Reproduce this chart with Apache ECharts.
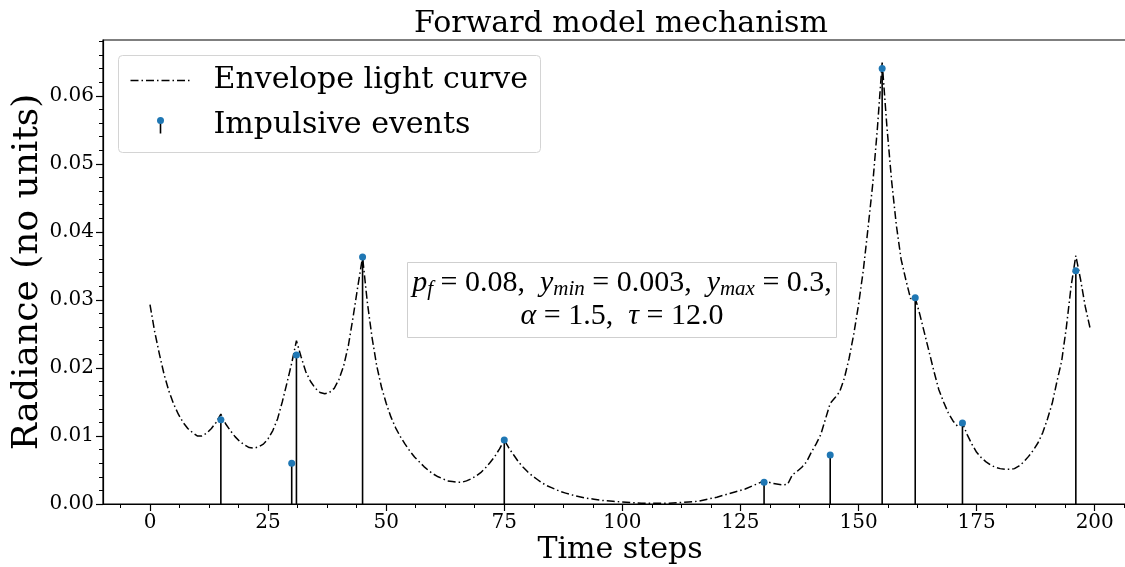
<!DOCTYPE html>
<html>
<head>
<meta charset="utf-8">
<script src="https://cdn.jsdelivr.net/npm/echarts@6/dist/echarts.min.js"></script>
<style>html,body{margin:0;padding:0;background:#fff}#c{width:1125px;height:567px}</style>
</head>
<body>
<div id="c"></div>
<script>
// ---- data ----
const curveT = [0,1,2,3,4,5,6,7,8,9,10,11,12,13,14,15,16,17,18,19,20,21,22,23,24,25,26,27,28,29,30,31,32,33,34,35,36,37,38,39,40,41,42,43,44,45,46,47,48,49,50,51,52,53,54,55,56,57,58,59,60,61,62,63,64,65,66,67,68,69,70,71,72,73,74,75,76,77,78,79,80,81,82,83,84,85,86,87,88,90,92,94,96,98,100,102,104,106,108,110,112,114,116,118,120,122,124,126,128,130,131,132,133,134,135,136,137,138,139,140,141,142,143,144,145,146,147,148,149,150,151,152,153,154,155,156,157,158,159,160,161,162,163,164,165,166,167,168,169,170,171,172,173,174,175,176,177,178,179,180,181,182,183,184,185,186,187,188,189,190,191,192,193,194,195,196,197,198,199];
const curveV = [0.0293,0.0253,0.0220,0.0190,0.0166,0.0147,0.0132,0.0120,0.0111,0.0105,0.0100,0.0100,0.0104,0.0111,0.0120,0.0132,0.0118,0.0108,0.0099,0.0092,0.0087,0.0083,0.0082,0.0084,0.0088,0.0096,0.0108,0.0125,0.0150,0.0178,0.0207,0.0240,0.0216,0.0194,0.0180,0.0170,0.0164,0.0162,0.0164,0.0170,0.0183,0.0203,0.0233,0.0275,0.0320,0.0363,0.0297,0.0245,0.0203,0.0172,0.0148,0.0128,0.0112,0.0099,0.0088,0.0078,0.0069,0.0062,0.0055,0.0049,0.0044,0.0040,0.0037,0.0034,0.0033,0.0032,0.0032,0.0034,0.0037,0.0041,0.0046,0.0053,0.0061,0.0070,0.0081,0.0094,0.0082,0.0072,0.0062,0.0054,0.0047,0.0041,0.0036,0.0031,0.0027,0.0024,0.0021,0.0018,0.0016,0.0012,0.0009,0.0007,0.0005,0.0004,0.0003,0.0002,0.0001,0.0001,0.0001,0.0001,0.0002,0.0003,0.0004,0.0007,0.0010,0.0014,0.0018,0.0022,0.0028,0.0034,0.0032,0.0030,0.0029,0.0028,0.0029,0.0043,0.0048,0.0054,0.0062,0.0076,0.0088,0.0102,0.0125,0.0148,0.0156,0.0165,0.0185,0.0214,0.0250,0.0293,0.0343,0.0405,0.0470,0.0553,0.0649,0.0555,0.0475,0.0410,0.0360,0.0330,0.0302,0.0303,0.0278,0.0250,0.0222,0.0194,0.0168,0.0150,0.0134,0.0122,0.0114,0.0119,0.0102,0.0088,0.0076,0.0068,0.0062,0.0057,0.0054,0.0052,0.0051,0.0051,0.0052,0.0056,0.0062,0.0070,0.0079,0.0090,0.0105,0.0125,0.0148,0.0180,0.0210,0.0260,0.0320,0.0365,0.0330,0.0290,0.0259];
const eventT = [15,30,31,45,75,130,144,155,162,172,196];
const eventV = [0.0124,0.0060,0.0219,0.0363,0.0094,0.0032,0.0072,0.0640,0.0303,0.0119,0.0343];
const xTicks = [0,25,50,75,100,125,150,175,200];
const xMinorTicks = [-6.25,6.25,12.5,18.75,31.25,37.5,43.75,56.25,62.5,68.75,81.25,87.5,93.75,106.25,112.5,118.75,131.25,137.5,143.75,156.25,162.5,168.75,181.25,187.5,193.75,206.25];
const yTicks = [0,0.01,0.02,0.03,0.04,0.05,0.06];
const yMinorTicks = [0.002,0.004,0.006,0.008,0.012,0.014,0.016,0.018,0.022,0.024,0.026,0.028,0.032,0.034,0.036,0.038,0.042,0.044,0.046,0.048,0.052,0.054,0.056,0.058,0.062,0.064,0.066,0.068];

const SERIF = '"DejaVu Serif", serif';
const MATH = '"Liberation Serif", "DejaVu Serif", serif';
const dashDot = [8, 3, 1.5, 3];

const curveData = curveT.map((t, i) => [t, curveV[i]]);
const eventData = eventT.map((t, i) => [t, eventV[i]]);

const XMIN = -9.95, XMAX = 208.95, YMIN = 0, YMAX = 0.0682;

const chart = echarts.init(document.getElementById('c'), null, {renderer: 'canvas'});
const baseX = {type: 'value', min: XMIN, max: XMAX, position: 'bottom', splitLine: {show: false}};
const baseY = {type: 'value', min: YMIN, max: YMAX, position: 'left', splitLine: {show: false}};

chart.setOption({
  animation: false,
  backgroundColor: '#ffffff',
  title: {
    text: 'Forward model mechanism',
    left: 616, top: 4, textAlign: 'center',
    textStyle: {fontFamily: SERIF, fontSize: 30, fontWeight: 'normal', color: '#000'}
  },
  grid: {left: 103, right: -12, top: 40, bottom: 63, outerBoundsMode: 'none', containLabel: false,
    show: true, borderColor: '#000', borderWidth: 1.2, backgroundColor: 'transparent'},
  xAxis: [
    Object.assign({}, baseX, {
      name: 'Time steps', nameLocation: 'middle', nameGap: 31, nameMoveOverlap: false,
      nameTextStyle: {fontFamily: SERIF, fontSize: 30, color: '#000'},
      axisLine: {show: true, onZero: false, lineStyle: {color: '#000', width: 1.2}},
      axisTick: {show: true, inside: false, length: 7, customValues: xTicks, lineStyle: {color: '#000', width: 1.2}},
      axisLabel: {show: true, customValues: xTicks, margin: 9, fontFamily: SERIF, fontSize: 20, color: '#000'}
    }),
    Object.assign({}, baseX, {
      axisLine: {show: false, onZero: false},
      axisTick: {show: true, inside: false, length: 4, customValues: xMinorTicks, lineStyle: {color: '#000', width: 1}},
      axisLabel: {show: false}
    })
  ],
  yAxis: [
    Object.assign({}, baseY, {
      name: 'Radiance (no units)', nameLocation: 'middle', nameGap: 57, nameRotate: 90, nameMoveOverlap: false,
      nameTextStyle: {fontFamily: SERIF, fontSize: 36, color: '#000'},
      axisLine: {show: true, onZero: false, lineStyle: {color: '#000', width: 1.2}},
      axisTick: {show: true, inside: false, length: 7, customValues: yTicks, lineStyle: {color: '#000', width: 1.2}},
      axisLabel: {show: true, customValues: yTicks, margin: 9, fontFamily: SERIF, fontSize: 20, color: '#000',
        formatter: v => Number(v).toFixed(2)}
    }),
    Object.assign({}, baseY, {
      axisLine: {show: false, onZero: false},
      axisTick: {show: true, inside: false, length: 4, customValues: yMinorTicks, lineStyle: {color: '#000', width: 1}},
      axisLabel: {show: false}
    })
  ],
  series: [
    {
      name: 'Impulsive events stems', type: 'bar', xAxisIndex: 0, yAxisIndex: 0,
      data: eventData, barWidth: 1.6, itemStyle: {color: '#000'}, z: 2, silent: true
    },
    {
      name: 'Envelope light curve', type: 'line', xAxisIndex: 0, yAxisIndex: 0,
      data: curveData, showSymbol: false, symbol: 'none', smooth: false,
      lineStyle: {color: '#000', width: 1.5, type: dashDot}, z: 3, silent: true
    },
    {
      name: 'Impulsive events', type: 'scatter', xAxisIndex: 0, yAxisIndex: 0,
      data: eventData, symbolSize: 7, itemStyle: {color: '#1f77b4', opacity: 1}, z: 4, silent: true
    }
  ],
  graphic: [
    {
      type: 'group', left: 118, top: 55, z: 100,
      children: [
        {type: 'rect', shape: {x: 0, y: 0, width: 422, height: 97, r: 4},
         style: {fill: 'rgba(255,255,255,0.8)', stroke: '#d4d4d4', lineWidth: 1}},
        {type: 'line', shape: {x1: 12, y1: 25, x2: 72, y2: 25},
         style: {stroke: '#000', lineWidth: 1.5, lineDash: dashDot}},
        {type: 'text', x: 95, y: 25, style: {text: 'Envelope light curve', fontFamily: SERIF, fontSize: 30, fill: '#000', textVerticalAlign: 'middle', verticalAlign: 'middle'}},
        {type: 'line', shape: {x1: 42, y1: 65, x2: 42, y2: 78}, style: {stroke: '#000', lineWidth: 1.6}},
        {type: 'circle', shape: {cx: 42, cy: 65, r: 3.5}, style: {fill: '#1f77b4'}},
        {type: 'text', x: 95, y: 70, style: {text: 'Impulsive events', fontFamily: SERIF, fontSize: 30, fill: '#000', textVerticalAlign: 'middle', verticalAlign: 'middle'}}
      ]
    },
    {
      type: 'group', left: 407, top: 262, z: 100,
      children: [
        {type: 'rect', shape: {x: 0, y: 0, width: 429, height: 75},
         style: {fill: '#fff', stroke: '#cfcfcf', lineWidth: 1}},
        {type: 'text', x: 214.5, y: 37,
         style: {
           text: '{v|p}{s|f}{n| = 0.08,  }{v|y}{s|min}{n| = 0.003,  }{v|y}{s|max}{n| = 0.3,}\n{v|α}{n| = 1.5,  }{v|τ}{n| = 12.0}',
           align: 'center', verticalAlign: 'middle', textAlign: 'center', textVerticalAlign: 'middle',
           fontFamily: MATH, fontSize: 30, fill: '#000',
           rich: {
             v: {fontFamily: MATH, fontStyle: 'italic', fontSize: 30, lineHeight: 33, fill: '#000', verticalAlign: 'middle'},
             n: {fontFamily: MATH, fontSize: 30, lineHeight: 33, fill: '#000', verticalAlign: 'middle'},
             s: {fontFamily: MATH, fontStyle: 'italic', fontSize: 21, lineHeight: 19, fill: '#000', verticalAlign: 'bottom'}
           }
         }}
      ]
    }
  ]
});
</script>
</body>
</html>
